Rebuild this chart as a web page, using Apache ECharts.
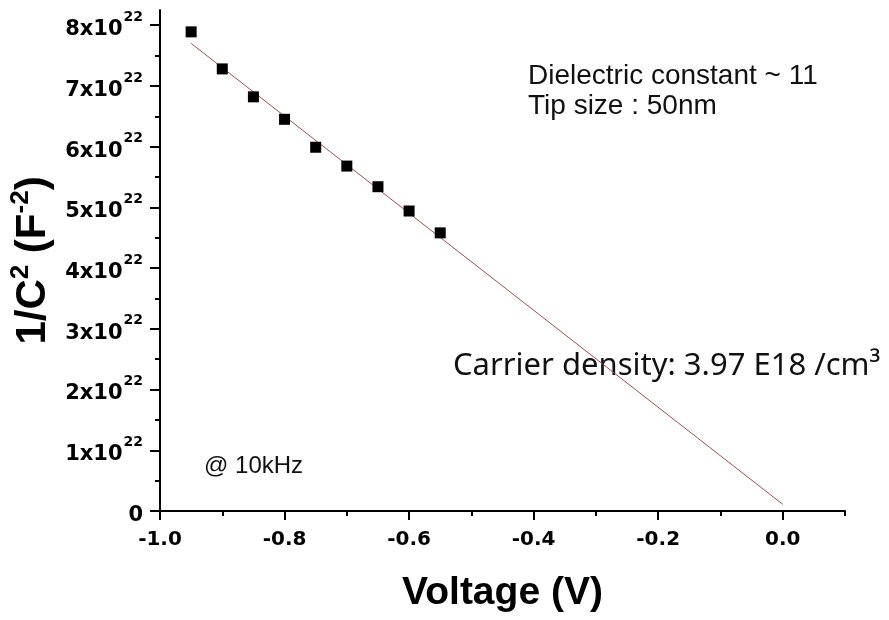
<!DOCTYPE html>
<html><head><meta charset="utf-8">
<script src="https://cdn.jsdelivr.net/npm/echarts@6/dist/echarts.min.js"></script>
<style>html,body{margin:0;padding:0;background:#fff}#c{width:889px;height:620px}</style>
</head><body><div id="c"></div>
<script>
// Measured data (1/C^2 in units of 1e22 F^-2)
const voltage = [-0.95, -0.90, -0.85, -0.80, -0.75, -0.70, -0.65, -0.60, -0.55];
const invC2 = [7.89, 7.28, 6.82, 6.45, 5.99, 5.68, 5.34, 4.94, 4.58];
// Linear fit endpoints
const fitVoltage = [-0.95, 0.0];
const fitInvC2 = [7.70, 0.11];
// Axis ticks
const xMajorTicks = [-1.0, -0.8, -0.6, -0.4, -0.2, 0.0];
const xMinorTicks = [-0.9, -0.7, -0.5, -0.3, -0.1, 0.1];
const yMajorTicks = [0, 1, 2, 3, 4, 5, 6, 7, 8];
const yMinorTicks = [0.5, 1.5, 2.5, 3.5, 4.5, 5.5, 6.5, 7.5];
const yExponent = '22';
// Annotations
const noteDielectric = 'Dielectric constant ~ 11';
const noteTip = 'Tip size : 50nm';
const noteFreq = '@ 10kHz';
const noteCarrier = 'Carrier density: 3.97 E18 /cm³';

const tickFont = 'DejaVu Sans';
const chart = echarts.init(document.getElementById('c'), null, {renderer: 'canvas'});
const axisLineStyle = {color: '#000', width: 2};
const xMin = -1.0, xMax = 0.1, yMin = 0, yMax = 8.25;

chart.setOption({
  animation: false,
  backgroundColor: '#fff',
  grid: {left: 160, right: 44, top: 10, bottom: 109, containLabel: false},
  xAxis: [{
    type: 'value', min: xMin, max: xMax, interval: 0.2,
    axisLine: {show: true, onZero: false, lineStyle: axisLineStyle},
    axisTick: {show: true, inside: false, length: 9, lineStyle: {color: '#000', width: 2}, customValues: xMajorTicks},
    axisLabel: {show: true, margin: 19, customValues: xMajorTicks, color: '#000', fontFamily: tickFont, fontWeight: 'bold', fontSize: 20,
      formatter: v => Number(v).toFixed(1)},
    splitLine: {show: false},
    name: 'Voltage (V)', nameLocation: 'middle', nameGap: 63,
    nameTextStyle: {fontFamily: 'Liberation Sans', fontWeight: 'bold', fontSize: 39, color: '#000'}
  }, {
    type: 'value', min: xMin, max: xMax, position: 'bottom',
    axisLine: {show: false, onZero: false},
    axisTick: {show: true, length: 5, lineStyle: {color: '#000', width: 2}, customValues: xMinorTicks},
    axisLabel: {show: false}, splitLine: {show: false}
  }],
  yAxis: [{
    type: 'value', min: yMin, max: yMax, interval: 1,
    axisLine: {show: true, onZero: false, lineStyle: axisLineStyle},
    axisTick: {show: true, length: 10, lineStyle: {color: '#000', width: 2}, customValues: yMajorTicks},
    axisLabel: {show: true, margin: 17, customValues: yMajorTicks, color: '#000',
      formatter: v => v === 0 ? '{b|0}' : '{b|' + v + 'x10}{s|' + yExponent + '}',
      rich: {
        b: {fontFamily: tickFont, fontWeight: 'bold', fontSize: 21, color: '#000', lineHeight: 30, verticalAlign: 'bottom'},
        s: {fontFamily: tickFont, fontWeight: 'bold', fontSize: 14, color: '#000', lineHeight: 30, verticalAlign: 'top', padding: [0, 0, 0, 1]}
      }},
    splitLine: {show: false},
    name: '{a|1/C}{s|2}{a| (F}{s|-2}{a|)}', nameLocation: 'middle', nameGap: 97,
    nameTextStyle: {
      rich: {
        a: {fontFamily: 'Liberation Sans', fontWeight: 'bold', fontSize: 42, color: '#000', lineHeight: 46, verticalAlign: 'bottom'},
        s: {fontFamily: 'Liberation Sans', fontWeight: 'bold', fontSize: 26, color: '#000', lineHeight: 46, verticalAlign: 'top'}
      }
    }
  }, {
    type: 'value', min: yMin, max: yMax, position: 'left',
    axisLine: {show: false, onZero: false},
    axisTick: {show: true, length: 5, lineStyle: {color: '#000', width: 2}, customValues: yMinorTicks},
    axisLabel: {show: false}, splitLine: {show: false}
  }],
  series: [{
    type: 'line', name: 'fit', xAxisIndex: 0, yAxisIndex: 0,
    data: fitVoltage.map((v, i) => [v, fitInvC2[i]]),
    showSymbol: false, symbol: 'none',
    lineStyle: {color: '#9a5050', width: 1}, z: 1, silent: true
  }, {
    type: 'scatter', name: 'data', xAxisIndex: 0, yAxisIndex: 0,
    data: voltage.map((v, i) => [v, invC2[i]]),
    symbol: 'rect', symbolSize: 11,
    itemStyle: {color: '#000', opacity: 1}, z: 2
  }],
  graphic: [
    {type: 'text', left: 528, top: 62, style: {text: noteDielectric, font: '28px "Liberation Sans"', fill: '#111'}},
    {type: 'text', left: 528, top: 92, style: {text: noteTip, font: '28px "Liberation Sans"', fill: '#111'}},
    {type: 'text', left: 204, top: 454, style: {text: noteFreq, font: '24px "Liberation Sans"', fill: '#111'}},
    {type: 'text', left: 453, top: 351, style: {text: noteCarrier, font: '31px "Noto Sans"', fill: '#111'}}
  ]
});
</script>
</body></html>
